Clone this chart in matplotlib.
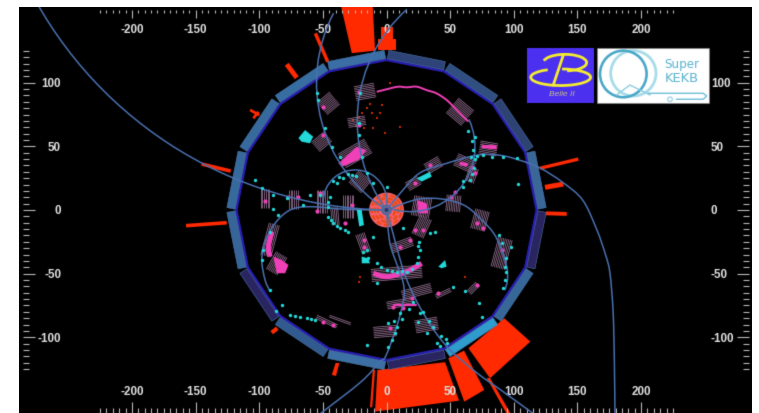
import numpy as np
import matplotlib
matplotlib.use("Agg")
import matplotlib.pyplot as plt
from matplotlib.patches import Polygon, Circle, Rectangle, Arc, RegularPolygon, PathPatch
from matplotlib.path import Path
from matplotlib.collections import LineCollection

plt.rcParams['font.family'] = ['Liberation Sans', 'DejaVu Sans']

# axis ticks
x_major = [-200, -150, -100, -50, 0, 50, 100, 150, 200]
x_labels = ['-200', '-150', '-100', '-50', '0', '50', '100', '150', '200']
x_minor = list(range(-225, 230, 5))
y_major = [-100, -50, 0, 50, 100]
y_labels = ['-100', '-50', '0', '50', '100']
y_minor = list(range(-125, 130, 5))

# barrel module energy colours, clockwise from the top
module_mid = [78.75 - 22.5 * k for k in range(16)]
module_colors = ['#2f4478', '#304e80', '#2e4274', '#3a6898', '#2a2560', '#376898', '#2f9ccc', '#2a2560',
                 '#3c70a4', '#315a8e', '#2a2560', '#37659a', '#386a9c', '#386a9c', '#386ea2', '#3a6ea4']

# calorimeter energy deposits
red_blocks = [
    [(-7.2, -125.7), (46, -119.6), (57, -149.8), (-9, -158.4)],
    [(-10.8, -125.7), (-9, -125.7), (-11.2, -155), (-13, -155)],
    [(48.5, -116.5), (60.9, -110.5), (76.8, -141.4), (61.1, -150.6)],
    [(64.3, -108.6), (92.5, -85), (113, -103.4), (81.3, -132.2)],
    [(78.7, -132), (81.3, -132), (97.6, -160), (94.4, -160)],
    [(-43, -129.6), (-40, -120.2), (-37, -120.2), (-39.7, -130.4)],
    [(-35.7, 160), (-10.8, 160), (-9, 125.2), (-27.3, 123.2)],
    [(-6.4, 134.3), (7.2, 134.3), (7.2, 125.7), (-6.4, 125.7)],
    [(-4.3, 143.5), (5.3, 143.5), (5.3, 134.3), (-4.3, 134.3)],
]
red_x0 = [-55.9, -78.4, -107.2, -104.6, -145.2, -157.5, -90.2, 120.6, 124.5, 125.3]
red_y0 = [138.8, 114.5, 78.6, 72, 36.1, -12.3, -96.4, 32.8, 17.8, -2.6]
red_x1 = [-46.2, -70.5, -99.9, -100.7, -122.4, -125.5, -85.8, 150.7, 138.9, 141.6]
red_y1 = [116.5, 103.9, 74.6, 77.2, 30.6, -10, -92.9, 40, 20.4, -3.1]
red_w = [2.5, 3.5, 2, 2, 2.6, 2.6, 3, 2.4, 3.6, 2.8]
red_dot_x = [-15.6, -11.6, -7.7, -3.8, -22, -26, -18, -10.3, -1.2, 10.6, 2.7, -20.8, -22, 61.6, -13, -5, -19, -24]
red_dot_y = [79.8, 75.9, 72, 82.5, 73.3, 70.7, 64.1, 64.1, 60.2, 65.4, 99.5, -52.4, -56.3, -52.4, 83, 76, 76, 66]

# helix tracks as circular arcs
arc_cx = [63, 95, 4, -24.7, 18.5]
arc_cy = [100, 70, 320, 6.5, 49.7]
arc_r = [118, 118, 320, 25, 51]
arc_t1 = [152.4, 132, 205, -15, 249.6]
arc_t2 = [237.8, 216.4, 269, 180, 25]

# tracks read as waypoints
track_d_x = [0, 10.6, 26, 47, 70.8, 89, 105, 120.6, 138, 154, 165, 172, 175.5, 178, 179, 179.5]
track_d_y = [0, 13, 29, 36.6, 43, 43, 39, 33, 22, 7.9, -15, -35, -49.5, -80, -120, -165]
track_e_x = [0, 5, 13, 19, 26, 37, 50, 71, 92, 118]
track_e_y = [0, -18, -47, -62, -76, -94, -110, -128, -143, -162]
track_f_x = [0, 2.7, 9, 13.2, 13.5, 8, -0.7, -5, -20, -52]
track_f_y = [0, -26, -45, -57.6, -70, -91.6, -115, -119, -135, -160]
track_g_x = [0, -31.3, -60, -75.8, -87.6, -95.4, -98, -95.4, -91.5]
track_g_y = [0, 0.5, 2.6, 0, -10.5, -24.9, -39.3, -55, -64.1]
track_j_x = [0, 13, 25, 37, 50, 63, 75, 84, 90, 94.4, 95, 93]
track_j_y = [0, 5, 8.5, 9.2, 7.5, 2.6, -8, -18, -30, -44.5, -55, -63]

# drift chamber wire bundles
b_x = [-16.9, -45.7, -23.4, -50.9, -24.7, 57.7, 80, 61.6, 66.9, 36.8, 21, 52.5, 27.6, 27.6, -95.4, -73.2,
       -50.9, -30, -20.8, -91.5, -86.3, -18.2, 11.9, 8, 23.7, 10.6, 31.5, -1.2, 73.4, 90.4, 68.2, 44.6, -47, -36.5, -40.5]
b_y = [92.9, 83.8, 69.4, 53.7, 44.5, 77.2, 48.4, 36.6, 27.5, 35.3, 20.9, 5.2, 2.6, -13.1, 9.2, 7.9,
       6.5, 2.6, 22.3, -23.6, -41.9, -26.2, -27.5, -49.7, -64.1, -73.3, -90.3, -95.5, -7.9, -34, -61.5, -65.4, -87.7, -86.4, -5]
b_ang = [10, 40, 10, 40, 30, -40, -10, -25, 70, 30, 30, 85, 80, 65, 90, 90,
         90, 90, 50, 75, 60, -70, 20, 5, 15, 10, 10, 5, 75, 75, 45, 25, -25, -20, 95]
b_len = [16, 13, 14, 13, 24, 16, 14, 16, 12, 13, 11, 13, 16, 16, 15, 15,
         18, 18, 13, 26, 16, 16, 18, 40, 24, 21, 18, 18, 16, 24, 10, 13, 18, 18, 14]
b_n = [9, 10, 6, 8, 10, 12, 8, 8, 6, 7, 6, 9, 11, 8, 6, 6,
       7, 7, 10, 7, 8, 6, 6, 8, 6, 5, 8, 7, 9, 9, 4, 3, 3, 2, 5]

# strong drift chamber hits
hot_polys = [
    [(-37.8, 36.6), (-23.4, 49.7), (-15.6, 47.1), (-22, 39.3), (-35, 34)],
    [(74.7, 51), (86.5, 51), (86.5, 47.6), (74.7, 48.7)],
    [(57.7, 38), (64.3, 36.6), (63, 34), (57.2, 35.3)],
    [(23.7, 7.9), (31.5, 5.2), (32.9, -2.6), (25, -2.6)],
    [(-88.9, -36.6), (-82.3, -39.3), (-77, -43.2), (-79.6, -49.7), (-86.2, -49.7)],
]
hot_chain_x = [[-90, -92.8, -91.5], [-10.3, 0, 15.8, 27.6], [5.4, 23.7],
               [-7.7, -2.5, 2.7, 9.3, 15.8, 23.7, 31.5, 39.4, 47.3, 52.5, 57.7, 64.3]]
hot_chain_y = [[-17, -28.8, -36.6], [-49.7, -52.4, -48.4, -41.9], [-74.6, -74.6],
               [92.9, 94.2, 95.5, 96.9, 96.4, 96.9, 94.2, 91.6, 86.4, 81.2, 76, 69.4]]
hot_chain_w = [2.6, 2.6, 1.2, 1.0]
hit_x = [-22, -49.6, -22, -50, -95.4, -69.2, -77, -54.8, -52, -27.4, -32.6, -18, -18, 10.6, 18.5, 22.4, 29,
         51, 54, 70.8, 76, 90.4, 70.8, 40.7, 19.8, 5.4, 13.2, 36.8, 2.7, -41.8, -49.6, 66.9, 69.5, 34, 22.4]
hit_y = [93, 81, 67, 59, 7.3, 10.5, 10.5, -0.5, 13, 3.9, -10.5, -23.6, -28.8, -28.8, -23.6, -15.7, -15.7,
         10.5, 14.4, -10.5, -14.4, -31.4, -58.9, -65.4, -69.4, -75.9, -77, -91.6, -92.9, -90.3, -87.7, 34, 28.8, 35.3, 20.9]

# silicon / cluster hits
cyan_polys = [
    [(-69.2, 56.5), (-64, 62.8), (-57.6, 57.6), (-60.2, 52.4), (-66.8, 53.7)],
    [(-23.4, 0), (-19.5, 0), (-17.7, -11.8), (-21.4, -13)],
    [(23.7, 24.9), (34, 30), (35.5, 26.2), (27.6, 22.3)],
    [(40.7, -44.5), (46, -39.3), (47.2, -44.5), (43.3, -45.8)],
    [(-19.5, -36.6), (-14.3, -38), (-13, -41.9), (-19.5, -41.9)],
]
cyan_x = [-39.1, -33.9, -27.4, -44.4, -45.7, -45.7, -41.8, -36.5, -30,
          -98, -97.3, -91.5, -85, -91.5, -82.3, -75.8, -68, -62.8, -56.3,
          70.8, 76, 91.8, 102.2, 103.5, 97.8, 93, 93, 91.8, 52.5, 61.6, 73, 75.1,
          69.5, 68.2, 65.6, 60.3,
          -103.3, -54.8, -53.5, -48.3, -43, -36.5,
          -20.8, -22, -22, -19.5, -15.6, -10.3,
          -15.6, -18.2, -14.3, -7.7, 0, 8, 15.8, 23.7, 26.3, 25.8,
          13.2, 34.2, 38, 0.1, -10.3, -7.7, -15.6, 1.4,
          10.6, 8, 4, 1.4, 26.3, 31.5, 39.4, 28.9, 36.8, 47.3,
          -88.9, -98, -88.9, -78.4, -60, -52.2, -65.3,
          -42, -37, -30.5, -24, -46, -44, -39, -33, 20, 12, 4, -4, 24.5, 25,
          -87, -72, -59, 66, 83, 88, 91, 94, 94, 64, 67.5, 69.5, 69, 67, 60,
          6, 12.5, 7, 18, 25, 43, 47, 33, 21, 42]
cyan_y = [20.9, 24.9, 27.5, 10.5, 2.6, -5.2, -10.5, -14.4, -17,
          -39.3, -31.4, -17, -3.9, -62.8, -74.6, -82.5, -83.8, -85, -86.4,
          42.4, 43.2, 41.9, 40.6, 20.2, -28.8, -44.5, -55, -61.5, -60.7, -64, -73.3, -83.8,
          57.6, 47, 23.6, 18.3,
          23.6, 91.6, 86.4, 64.1, 49.7, 41.9,
          91.6, 68, 58.9, 41.9, 28.8, 20.9,
          -31.4, -32.7, -38, -41.9, -47, -48.4, -48.4, -41.9, -31.4, -24.9,
          -14.4, -18.3, -17, 18.3, -20.9, -57.6, -106, -89,
          -81.2, -91.6, -102, -107.3, -81.2, -96.9, -104.7, -79.8, -91.6, -104.7,
          0.5, 17, 11.8, 9.2, 11.8, 11.8, 3.9,
          23, 26, 28, 27, 6, -8, -12.5, -16, -46, -48, -48, -45, -37, -28,
          -79, -83, -86, 42, 42, -20, -26, -38, -49, 62, 54, 40, 33, 28, 23,
          -87, -86, -97, -78, -88, -99, -101, -87, -72, -107]


def smooth_path(xs, ys):
    """Bezier path running through the read waypoints."""
    p = np.column_stack([xs, ys]).astype(float)
    verts = [p[0]]
    codes = [Path.MOVETO]
    for i in range(len(p) - 1):
        p0 = p[max(i - 1, 0)]
        p1 = p[i]
        p2 = p[i + 1]
        p3 = p[min(i + 2, len(p) - 1)]
        verts += [p1 + (p2 - p0) / 6, p2 - (p3 - p1) / 6, p2]
        codes += [Path.CURVE4] * 3
    return Path(verts, codes)


def soften(img, dpi):
    """Slight gaussian softening, as in the scanned look of the display."""
    k = np.array([0.12, 0.76, 0.12])
    out = img.copy()
    for axis in (0, 1):
        pad = [(1, 1) if a == axis else (0, 0) for a in range(3)]
        e = np.pad(out, pad, mode='edge')
        if axis == 0:
            out = k[0] * e[:-2] + k[1] * e[1:-1] + k[2] * e[2:]
        else:
            out = k[0] * e[:, :-2] + k[1] * e[:, 1:-1] + k[2] * e[:, 2:]
    return out, 0, 0


fig = plt.figure(figsize=(7.59, 4.13), dpi=100, facecolor='white')
ax = fig.add_axes([19 / 759, 0, 733 / 759, 406 / 413], facecolor='black')
ax.set_xlim(-288.7, 287.1)
ax.set_ylim(-159.5, 159.5)
ax.set_agg_filter(soften)

RED = '#ff2a00'
BLUE = '#4a70b0'
CYAN = '#22d8d8'
PINK = '#f040b8'
WIRE = '#8f6c8c'

# inner ring and barrel modules
ax.add_patch(RegularPolygon((0, 0), 16, radius=118, facecolor='none', edgecolor='#2a1fb0', lw=1.8, zorder=2))
for mid, c in zip(module_mid, module_colors):
    a = np.deg2rad(mid)
    u = np.array([np.cos(a), np.sin(a)])
    v = np.array([-np.sin(a), np.cos(a)])
    corners = [u * 116.8 - v * 22.6, u * 123.4 - v * 22.6, u * 123.4 + v * 22.6, u * 116.8 + v * 22.6]
    ax.add_patch(Polygon(corners, closed=True, facecolor=c, edgecolor='#5080b8', lw=0.35, zorder=2.2))

# red deposits
for p in red_blocks:
    ax.add_patch(Polygon(p, closed=True, facecolor=RED, edgecolor='none', zorder=1.5))
for x0, y0, x1, y1, w in zip(red_x0, red_y0, red_x1, red_y1, red_w):
    ax.plot([x0, x1], [y0, y1], color=RED, lw=w, solid_capstyle='butt', zorder=1.5)
ax.scatter(red_dot_x, red_dot_y, s=1.5, color='#c82800', marker='s', lw=0, zorder=2)

# wire bundles
segs = []
for x, y, ang, ln, n in zip(b_x, b_y, b_ang, b_len, b_n):
    a = np.deg2rad(ang)
    d = np.array([np.cos(a), np.sin(a)])
    p = np.array([-np.sin(a), np.cos(a)])
    for k in range(n):
        c = np.array([x, y]) + p * (k - (n - 1) / 2) * 1.35
        segs.append([c - d * ln / 2, c + d * ln / 2])
ax.add_collection(LineCollection(segs, colors=WIRE, linewidths=0.6, zorder=3))

# strong hits
for p in hot_polys:
    ax.add_patch(Polygon(p, closed=True, facecolor=PINK, edgecolor='none', zorder=3.5))
for xs, ys, w in zip(hot_chain_x, hot_chain_y, hot_chain_w):
    ax.add_patch(PathPatch(smooth_path(xs, ys), facecolor='none', edgecolor=PINK, lw=w * 1.4, zorder=3.5))
ax.scatter(hit_x, hit_y, s=9, color=PINK, lw=0, marker='o', zorder=3.5)

# tracks
for cx, cy, r, t1, t2 in zip(arc_cx, arc_cy, arc_r, arc_t1, arc_t2):
    ax.add_patch(Arc((cx, cy), 2 * r, 2 * r, theta1=t1, theta2=t2, color=BLUE, lw=1.1, zorder=4))
for xs, ys in [(track_d_x, track_d_y), (track_e_x, track_e_y), (track_f_x, track_f_y),
               (track_g_x, track_g_y), (track_j_x, track_j_y)]:
    ax.add_patch(PathPatch(smooth_path(xs, ys), facecolor='none', edgecolor=BLUE, lw=1.1, zorder=4))

# cyan hits
for p in cyan_polys:
    ax.add_patch(Polygon(p, closed=True, facecolor=CYAN, edgecolor='none', zorder=4.5))
ax.scatter(cyan_x, cyan_y, s=6, color=CYAN, lw=0, zorder=4.5)

# vertex detector disc
ax.add_patch(Circle((0, 0), 13.7, facecolor='#f2606e', edgecolor='none', zorder=3.8))
for r in [11.7, 9.2, 6.7]:
    ax.add_patch(Circle((0, 0), r, facecolor='none', edgecolor='#f04a10', lw=1.7, ls=(0, (2.2, 1.0)), zorder=3.9))
ax.add_patch(Circle((0, 0), 3.6, facecolor='#6a6a90', edgecolor='#3f68a8', lw=0.9, zorder=4.6))
ax.add_patch(Circle((0, 0), 1.6, facecolor='#243a70', edgecolor='none', zorder=4.7))

# Belle II logo
ax.add_patch(Rectangle((110.6, 84), 52.6, 43, facecolor='#4b30f0', edgecolor='none', zorder=6))
Y = '#f4ec30'
ax.add_patch(Arc((140.2, 115.8), 34, 13, theta1=-75, theta2=175, color=Y, lw=2.0, zorder=7))
ax.add_patch(Arc((136.8, 104.3), 47, 13, theta1=150, theta2=80, color=Y, lw=2.0, zorder=7))
ax.plot([138.9, 131], [121.8, 98.2], color=Y, lw=2.0, zorder=7)
ax.text(137.6, 90.4, 'Belle II', color='#c8c080', fontsize=6, style='italic', ha='center', va='center', zorder=7)

# SuperKEKB logo
ax.add_patch(Rectangle((165.6, 84), 87.5, 43, facecolor='white', edgecolor='#888888', lw=0.4, zorder=6))
ax.add_patch(Circle((193.9, 107.4), 17.8, facecolor='none', edgecolor='#a8dce8', lw=2.0, zorder=7))
ax.add_patch(Circle((186, 106.9), 18.3, facecolor='none', edgecolor='#4aa8c8', lw=1.9, zorder=7))
ax.plot([180.8, 191.2, 207], [90.4, 98.2, 90.4], color='#8ccde0', lw=1.0, zorder=7)
ax.plot([205.6, 248.8, 251.5, 248.8, 227.9], [91.7, 91.7, 89.6, 87, 87], color='#6fc0d8', lw=1.0, zorder=7)
ax.add_patch(Circle((222.7, 87), 1.8, facecolor='none', edgecolor='#8ccde0', lw=0.8, zorder=7))
ax.text(231.8, 114.5, 'Super', color='#5ab4d0', fontsize=8.6, family='DejaVu Sans', ha='center', va='center', zorder=7)
ax.text(231.8, 103.5, 'KEKB', color='#5ab4d0', fontsize=9.4, family='DejaVu Sans', ha='center', va='center', zorder=7)

# axes
for s in ax.spines.values():
    s.set_visible(False)
ax.spines['top'].set_position(('outward', -1.8))
ax.spines['left'].set_position(('outward', -2.9))
ax.spines['right'].set_position(('outward', -2.2))
ax.set_axisbelow(False)
ax.set_xticks(x_major)
ax.set_xticklabels(x_labels)
ax.set_xticks(x_minor, minor=True)
ax.set_yticks(y_major)
ax.set_yticklabels(y_labels)
ax.set_yticks(y_minor, minor=True)
ax.tick_params(axis='both', which='both', direction='in', colors='#b8b8b8', width=0.8,
               top=True, bottom=True, left=True, right=True)
ax.tick_params(axis='x', which='major', length=6.1, pad=-19.2, labeltop=True, labelbottom=True,
               labelsize=8.4, labelcolor='#e0e0e0')
ax.tick_params(axis='x', which='minor', length=2.2)
ax.tick_params(axis='y', which='major', length=8.3, pad=-27.4, labelleft=True, labelright=True,
               labelsize=8.4, labelcolor='#e0e0e0')
ax.tick_params(axis='y', which='minor', length=4.0)
for t in ax.xaxis.get_major_ticks():
    t.tick1line.set_markersize(7.9)
for t in ax.xaxis.get_minor_ticks():
    t.tick1line.set_markersize(3.8)
for t in ax.get_xticklabels() + ax.get_yticklabels():
    t.set_fontweight('bold')

fig.savefig('out.png', dpi=100, facecolor='white')
